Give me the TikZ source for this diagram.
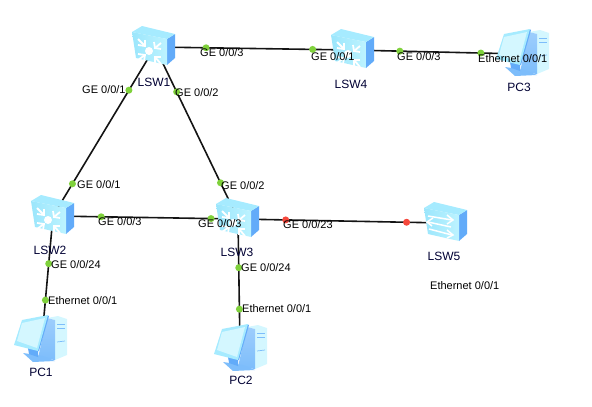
\documentclass[tikz,border=0pt]{standalone}
\usepackage{fontspec}
\setmainfont{Liberation Sans}
\definecolor{topc}{HTML}{A6EBFF}
\definecolor{frontc}{HTML}{9BE6FC}
\definecolor{frontd}{HTML}{BDF3FF}
\definecolor{sidec}{HTML}{62ABF9}
\definecolor{pale}{HTML}{D4F7FF}
\definecolor{midblue}{HTML}{7DBDFB}
\definecolor{portg}{HTML}{7FD13B}
\definecolor{portr}{HTML}{F5483C}
\tikzset{
  x=1pt,y=-1pt,
  devnode/.style={inner sep=0pt,minimum size=0pt},
  link/.style={line width=1.6pt,black!92},
  gdot/.style={circle,fill=portg,inner sep=0pt,minimum size=7pt},
  rdot/.style={circle,fill=portr,inner sep=0pt,minimum size=7pt},
  port/.style={anchor=west,inner sep=0pt,font=\fontsize{11}{12}\selectfont,text=black},
  devlabel/.style={inner sep=0pt,font=\fontsize{12}{13}\selectfont,text=black!80!blue},
  chev/.style={draw=white,line width=1.8pt,line join=miter},
  swbody/.pic={
    \fill[sidec] (15,-8) -- (23,-13) -- (23,11) -- (15,18) -- cycle;
    \fill[topc] (-20,-15) -- (-10,-21) -- (23,-13) -- (15,-8) -- cycle;
    \shade[left color=frontc,right color=frontd] (-20,-15) -- (15,-8) -- (15,18) -- (-16,11) -- cycle;
  },
  coreswitch/.pic={
    \pic {swbody};
    \fill[white] (-3,4) circle (4);
    \draw[chev] (-14,-8) -- (-7,-1);
    \draw[chev] (-14,-2) -- (-7,-1) -- (-7,-7);
    \draw[chev] (9,-4) -- (3,1);
    \draw[chev] (2,-5) -- (3,1) -- (9,2);
    \draw[chev] (-14,13) -- (-7,8);
    \draw[chev] (-14,7) -- (-7,8) -- (-8,14);
    \draw[chev] (9,17) -- (3,10);
    \draw[chev] (3,16) -- (3,10) -- (9,10);
  },
  l2switch/.pic={
    \pic {swbody};
    \draw[chev,line width=1.5pt] (-16,-7) -- (8,-3);
    \draw[chev,line width=1.5pt] (3,-8) -- (9,-3) -- (3,1);
    \draw[chev,line width=1.5pt] (-16,-1) -- (7,4);
    \draw[chev,line width=1.5pt] (-11,-5) -- (-17,-1) -- (-12,3);
    \draw[chev,line width=1.5pt] (-15,6) -- (8,12);
    \draw[chev,line width=1.5pt] (3,7) -- (9,12) -- (3,15);
  },
  pcicon/.pic={
    % tower
    \fill[pale] (7,-20) -- (18,-22) -- (27,-19) -- (27,17) -- (15,22) -- (15,-18) -- cycle;
    \shade[top color=midblue!75!white,bottom color=midblue] (7,-20) -- (15,-18) -- (15,22) -- (-2,20) -- cycle;
    \draw[midblue,line width=.7pt] (17,-14) -- (25,-14);
    \draw[midblue,line width=.7pt] (17,-10) -- (25,-10);
    \draw[midblue,line width=.7pt] (17,4) -- (25,3);
    % stand and base
    \fill[midblue] (-17,15) -- (3,18) -- (15,23) -- (-7,24) -- cycle;
    \fill[sidec] (-12,10) -- (-2,12) -- (-2,19) -- (-11,16) -- cycle;
    % monitor
    \fill[sidec] (7,-23) -- (9,-22) -- (-1,13) -- (-3,13) -- cycle;
    \fill[topc] (-18,-18) -- (8,-23) -- (-2,13) -- (-26,7) -- cycle;
    \fill[pale] (-18,-15) -- (5,-20) -- (-3,10) -- (-23,3) -- cycle;
  }
}
\begin{document}
\begin{tikzpicture}
\useasboundingbox (0,0) rectangle (592,407);
\node[devnode] (lsw1) at (155,47) {};
\node[devnode] (lsw2) at (53,216) {};
\node[devnode] (lsw3) at (238,219) {};
\node[devnode] (lsw4) at (351,50) {};
\node[devnode] (lsw5) at (445,223) {};
\node[devnode] (pc1) at (42,338) {};
\node[devnode] (pc2) at (240,347) {};
\node[devnode] (pc3) at (522,54) {};
% connectors
\draw[link] (lsw1) -- (lsw4) node[gdot,pos=.26] (d1) {} node[gdot,pos=.805] (d2) {};
\draw[link] (lsw4) -- (pc3) node[gdot,pos=.285] (d3) {} node[gdot,pos=.76] (d4) {};
\draw[link] (lsw1) -- (lsw2) node[gdot,pos=.255] (d5) {} node[gdot,pos=.81] (d6) {};
\draw[link] (lsw1) -- (lsw3) node[gdot,pos=.26] (d7) {} node[gdot,pos=.79] (d8) {};
\draw[link] (lsw2) -- (lsw3) node[gdot,pos=.26] (d9) {} node[gdot,pos=.855] (d10) {};
\draw[link] (lsw3) -- (lsw5) node[rdot,pos=.23] (d11) {} node[rdot,pos=.815] (d12) {};
\draw[link] (lsw2) -- (pc1) node[gdot,pos=.39] (d13) {} node[gdot,pos=.69] (d14) {};
\draw[link] (lsw3) -- (pc2) node[gdot,pos=.38] (d15) {} node[gdot,pos=.705] (d16) {};
% icons
\pic at (152,47) {coreswitch};
\pic at (351,50) {coreswitch};
\pic at (51,216) {coreswitch};
\pic at (236,219) {coreswitch};
\pic at (444,223) {l2switch};
\pic at (522,52) {pcicon};
\pic at (40,338) {pcicon};
\pic at (240,347) {pcicon};
% device labels
\node[devlabel] (t1) at (154,82) {LSW1};
\node[devlabel] (t2) at (50,250) {LSW2};
\node[devlabel] (t3) at (237,252) {LSW3};
\node[devlabel] (t4) at (351,84) {LSW4};
\node[devlabel] (t5) at (444,256) {LSW5};
\node[devlabel] (t6) at (41,372) {PC1};
\node[devlabel] (t7) at (241,380) {PC2};
\node[devlabel] (t8) at (519,87) {PC3};
% port labels
\node[port] (p1) at (200,53) {GE 0/0/3};
\node[port] (p2) at (311,57) {GE 0/0/1};
\node[port] (p3) at (397,57) {GE 0/0/3};
\node[port] (p4) at (478,59) {Ethernet 0/0/1};
\node[port] (p5) at (82,90) {GE 0/0/1};
\node[port] (p6) at (175,93) {GE 0/0/2};
\node[port] (p7) at (77,185) {GE 0/0/1};
\node[port] (p8) at (221,186) {GE 0/0/2};
\node[port] (p9) at (98,222) {GE 0/0/3};
\node[port] (p10) at (198,224) {GE 0/0/3};
\node[port] (p11) at (283,225) {GE 0/0/23};
\node[port] (p12) at (51,265) {GE 0/0/24};
\node[port] (p13) at (241,268) {GE 0/0/24};
\node[port] (p14) at (48,301) {Ethernet 0/0/1};
\node[port] (p15) at (242,309) {Ethernet 0/0/1};
\node[port] (p16) at (430,286) {Ethernet 0/0/1};
\end{tikzpicture}
\end{document}
